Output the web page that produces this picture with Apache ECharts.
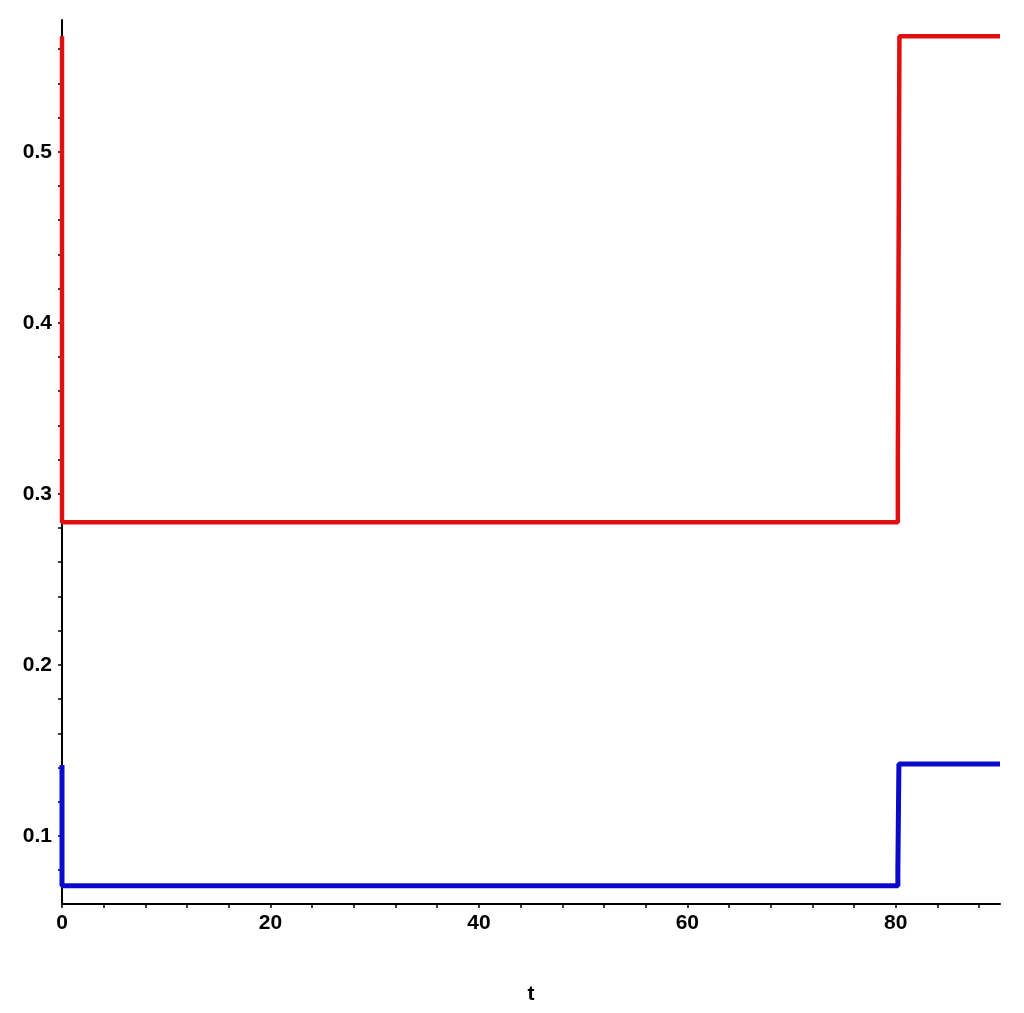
<!DOCTYPE html>
<html>
<head>
<meta charset="utf-8">
<script src="https://cdn.jsdelivr.net/npm/echarts@6/dist/echarts.min.js"></script>
<style>html,body{margin:0;padding:0;background:#fff}#c{width:1024px;height:1013px}</style>
</head>
<body>
<div id="c"></div>
<script>
// Data
var redSeries = [[0, 0.5675], [0, 0.2834], [80.2, 0.2834], [80.2, 0.321], [80.35, 0.321], [80.35, 0.5675], [90, 0.5675]];
var blueSeries = [[0, 0.1415], [0, 0.0708], [80.2, 0.0708], [80.2, 0.080], [80.3, 0.080], [80.3, 0.1421], [90, 0.1421]];
var xTickLabels = [0, 20, 40, 60, 80];
var xTicks = [0, 4, 8, 12, 16, 20, 24, 28, 32, 36, 40, 44, 48, 52, 56, 60, 64, 68, 72, 76, 80, 84, 88];
var yTickLabels = [0.1, 0.2, 0.3, 0.4, 0.5];
var yTicks = [0.08, 0.1, 0.12, 0.14, 0.16, 0.18, 0.2, 0.22, 0.24, 0.26, 0.28, 0.3, 0.32, 0.34, 0.36, 0.38, 0.4, 0.42, 0.44, 0.46, 0.48, 0.5, 0.52, 0.54, 0.56];

var chart = echarts.init(document.getElementById('c'));
var labelFont = {fontFamily: 'Liberation Sans', fontWeight: 'bold', fontSize: 21, color: '#000'};
chart.setOption({
  animation: false,
  backgroundColor: '#fff',
  grid: {left: 62, right: 24, top: 20, bottom: 109, containLabel: false},
  xAxis: {
    type: 'value', min: 0, max: 90,
    name: 't', nameLocation: 'middle', nameGap: 80,
    nameTextStyle: labelFont,
    axisLine: {show: true, onZero: false, lineStyle: {color: '#000', width: 2}},
    axisTick: {show: true, length: 4, customValues: xTicks, lineStyle: {color: '#000', width: 1.5}},
    axisLabel: Object.assign({customValues: xTickLabels, margin: 9, hideOverlap: false}, labelFont),
    splitLine: {show: false}
  },
  yAxis: {
    type: 'value', min: 0.0602, max: 0.577,
    axisLine: {show: true, onZero: false, lineStyle: {color: '#000', width: 2}},
    axisTick: {show: true, length: 4, customValues: yTicks, lineStyle: {color: '#000', width: 1.5}},
    axisLabel: Object.assign({customValues: yTickLabels, margin: 10, formatter: function (v) { return v.toFixed(1); }}, labelFont),
    splitLine: {show: false}
  },
  series: [
    {type: 'line', data: redSeries, showSymbol: false, symbol: 'none', lineStyle: {color: '#e01010', width: 4.5}, z: 3},
    {type: 'line', data: blueSeries, showSymbol: false, symbol: 'none', lineStyle: {color: '#0a0acc', width: 5}, z: 3}
  ]
});
</script>
</body>
</html>
